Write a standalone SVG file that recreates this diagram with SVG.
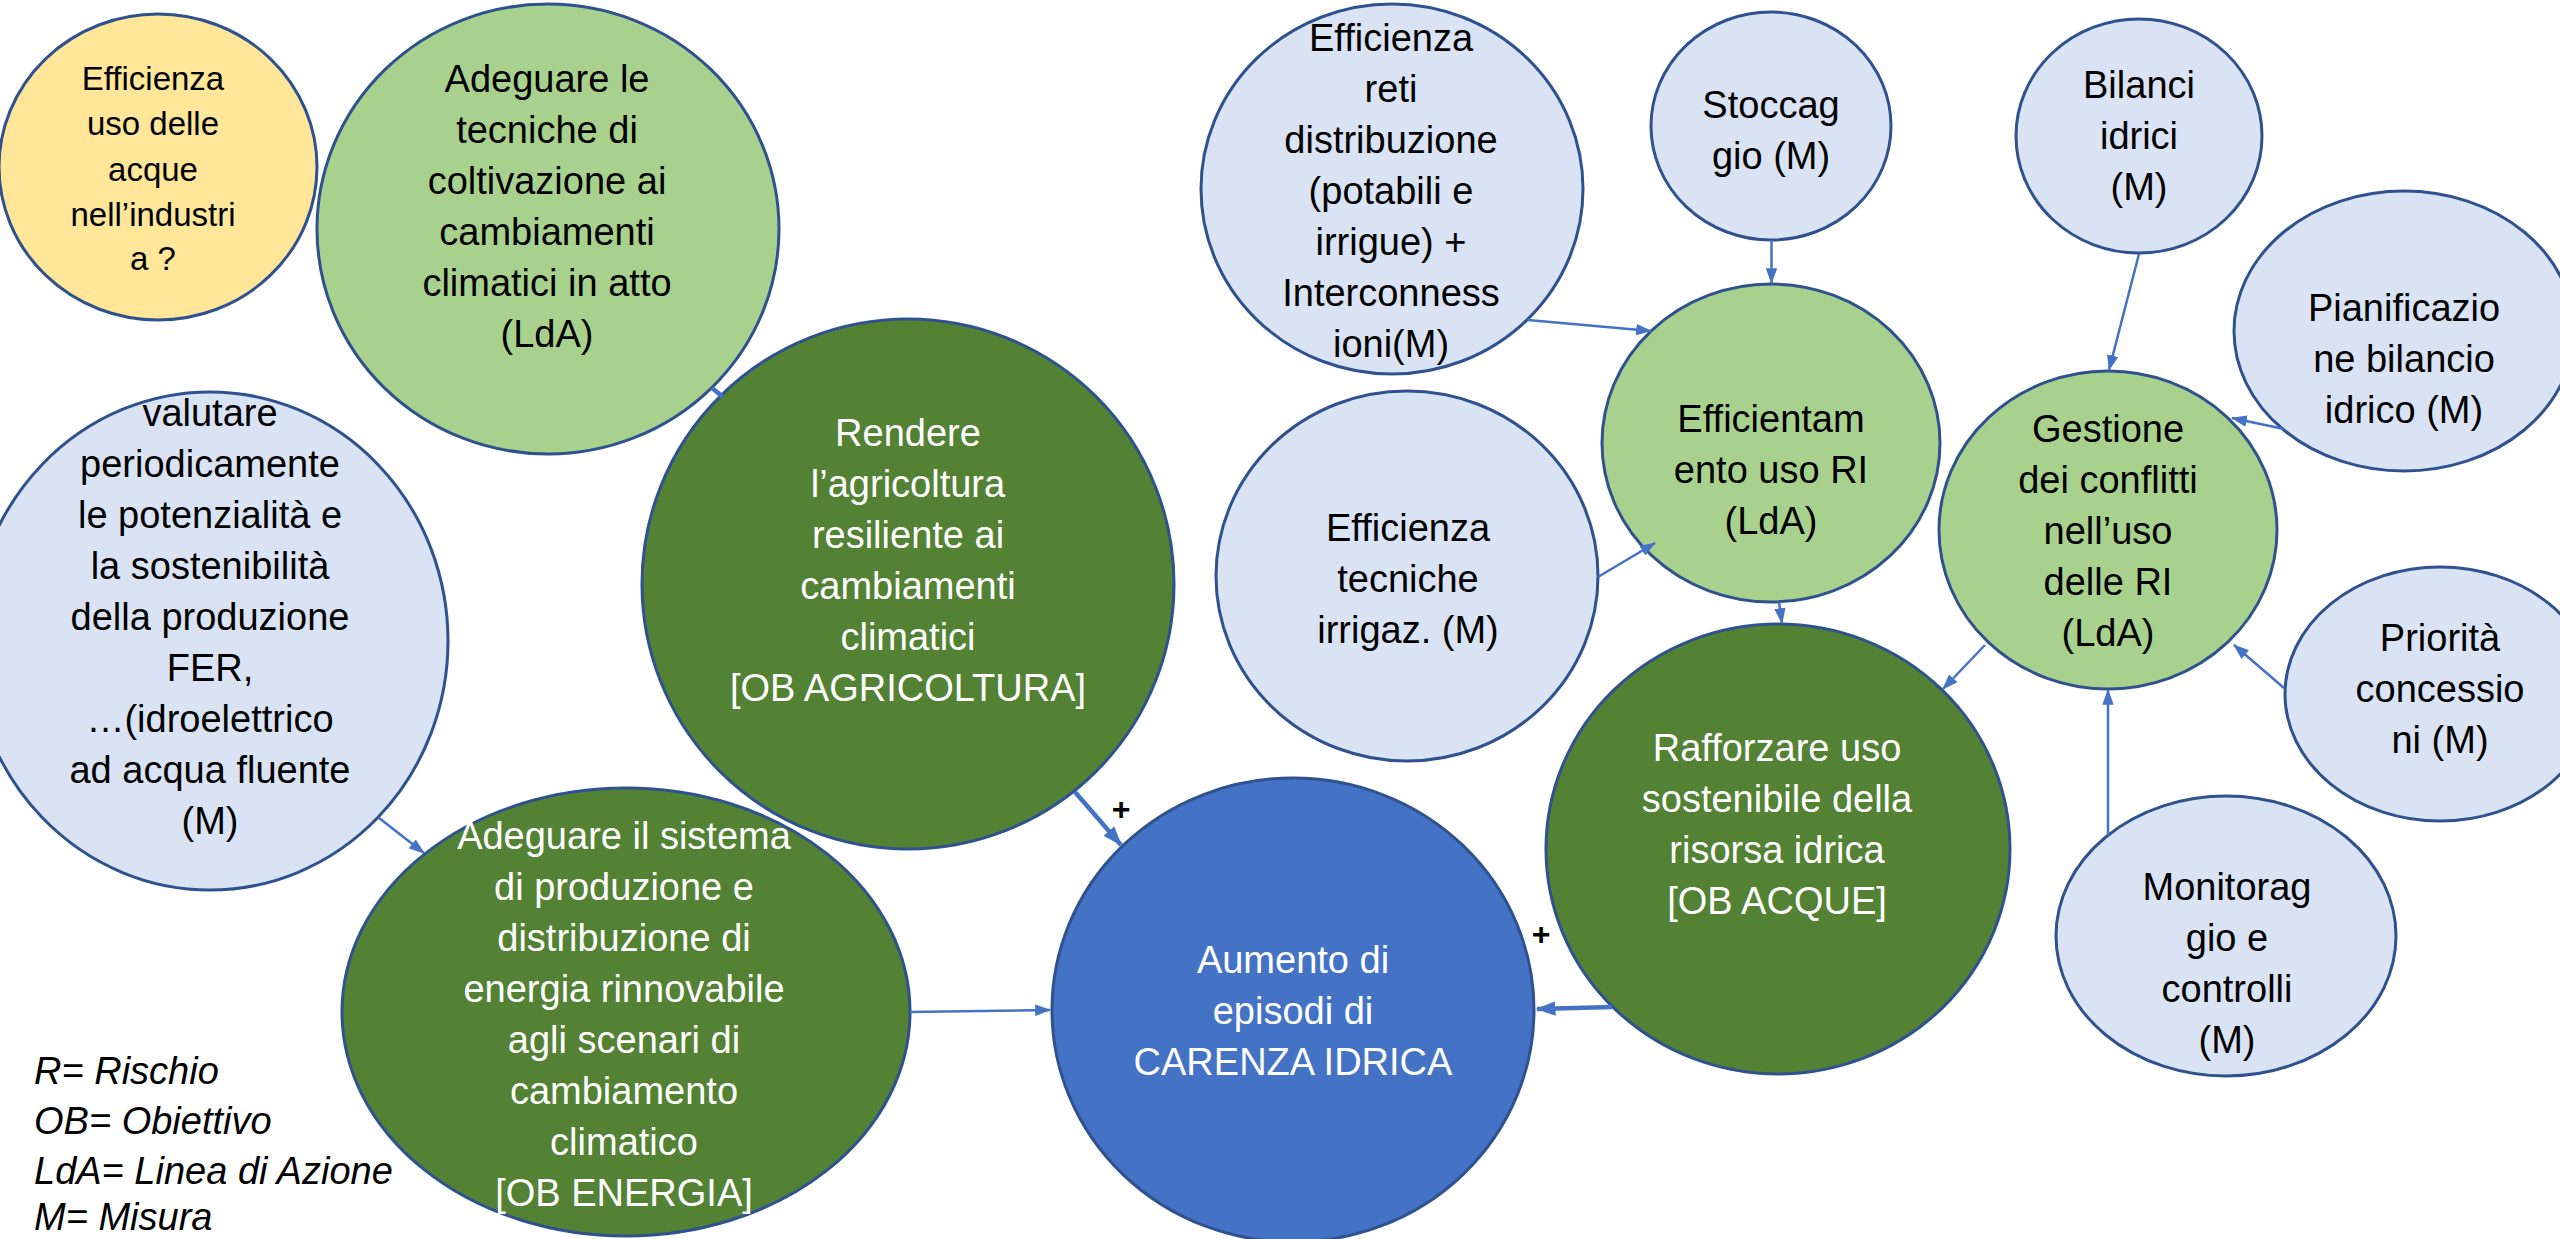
<svg xmlns="http://www.w3.org/2000/svg" width="2560" height="1239" viewBox="0 0 2560 1239">
<defs>
<style>
.n{stroke:#2F528F;stroke-width:3}
.lb{fill:#DAE3F3}
.lg{fill:#A9D18E}
.dg{fill:#548235}
.bl{fill:#4472C4}
.ye{fill:#FFE699}
text{font-family:"Liberation Sans",Arial,sans-serif;font-size:38px;text-anchor:middle}
.k{fill:#000}
.w{fill:#fff}
.sm{font-size:33px}
.lgd{font-style:italic;text-anchor:start;fill:#000}
.c{stroke:#4472C4;stroke-width:2.5;fill:none}
.t{stroke-width:4.5}
.plus{font-weight:bold;font-size:32px;fill:#000}
</style>
<marker id="a" viewBox="0 0 14 10" refX="13" refY="5" markerWidth="16" markerHeight="12" markerUnits="userSpaceOnUse" orient="auto"><path d="M0,0 L14,5 L0,10 z" fill="#4472C4"/></marker>
<marker id="ab" viewBox="0 0 14 10" refX="13" refY="5" markerWidth="20" markerHeight="15" markerUnits="userSpaceOnUse" orient="auto"><path d="M0,0 L14,5 L0,10 z" fill="#4472C4"/></marker>
</defs>
<rect width="2560" height="1239" fill="#fff"/>

<g id="n-industria">
<ellipse class="n ye" cx="158" cy="167" rx="159" ry="153"/>
<text class="k sm" x="153" y="90">Efficienza</text>
<text class="k sm" x="153" y="135">uso delle</text>
<text class="k sm" x="153" y="181">acque</text>
<text class="k sm" x="153" y="226">nell’industri</text>
<text class="k sm" x="153" y="270">a ?</text>
</g>

<g id="n-tecniche-coltivazione">
<ellipse class="n lg" cx="548" cy="229" rx="231" ry="225"/>
<text class="k" x="547" y="92">Adeguare le</text>
<text class="k" x="547" y="143">tecniche di</text>
<text class="k" x="547" y="194">coltivazione ai</text>
<text class="k" x="547" y="245">cambiamenti</text>
<text class="k" x="547" y="296">climatici in atto</text>
<text class="k" x="547" y="347">(LdA)</text>
</g>

<g id="n-valutare">
<ellipse class="n lb" cx="210" cy="641" rx="238" ry="249"/>
<text class="k" x="210" y="426">valutare</text>
<text class="k" x="210" y="477">periodicamente</text>
<text class="k" x="210" y="528">le potenzialità e</text>
<text class="k" x="210" y="579">la sostenibilità</text>
<text class="k" x="210" y="630">della produzione</text>
<text class="k" x="210" y="681">FER,</text>
<text class="k" x="210" y="732">…(idroelettrico</text>
<text class="k" x="210" y="783">ad acqua fluente</text>
<text class="k" x="210" y="834">(M)</text>
</g>

<g id="n-agricoltura">
<ellipse class="n dg" cx="908" cy="584" rx="266" ry="265"/>
<text class="w" x="908" y="446">Rendere</text>
<text class="w" x="908" y="497">l’agricoltura</text>
<text class="w" x="908" y="548">resiliente ai</text>
<text class="w" x="908" y="599">cambiamenti</text>
<text class="w" x="908" y="650">climatici</text>
<text class="w" x="908" y="701">[OB AGRICOLTURA]</text>
</g>

<g id="n-energia">
<ellipse class="n dg" cx="626" cy="1012" rx="284" ry="224"/>
<text class="w" x="624" y="849">Adeguare il sistema</text>
<text class="w" x="624" y="900">di produzione e</text>
<text class="w" x="624" y="951">distribuzione di</text>
<text class="w" x="624" y="1002">energia rinnovabile</text>
<text class="w" x="624" y="1053">agli scenari di</text>
<text class="w" x="624" y="1104">cambiamento</text>
<text class="w" x="624" y="1155">climatico</text>
<text class="w" x="624" y="1206">[OB ENERGIA]</text>
</g>

<g id="n-carenza">
<ellipse class="n bl" cx="1293" cy="1010" rx="241" ry="232"/>
<text class="w" x="1293" y="973">Aumento di</text>
<text class="w" x="1293" y="1024">episodi di</text>
<text class="w" x="1293" y="1075">CARENZA IDRICA</text>
</g>

<g id="n-acque">
<ellipse class="n dg" cx="1778" cy="849" rx="232" ry="225"/>
<text class="w" x="1777" y="761">Rafforzare uso</text>
<text class="w" x="1777" y="812">sostenibile della</text>
<text class="w" x="1777" y="863">risorsa idrica</text>
<text class="w" x="1777" y="914">[OB ACQUE]</text>
</g>

<g id="n-irrigaz">
<ellipse class="n lb" cx="1407" cy="576" rx="191" ry="185"/>
<text class="k" x="1408" y="541">Efficienza</text>
<text class="k" x="1408" y="592">tecniche</text>
<text class="k" x="1408" y="643">irrigaz. (M)</text>
</g>

<g id="n-reti">
<ellipse class="n lb" cx="1392" cy="189" rx="191" ry="185"/>
<text class="k" x="1391" y="51">Efficienza</text>
<text class="k" x="1391" y="102">reti</text>
<text class="k" x="1391" y="153">distribuzione</text>
<text class="k" x="1391" y="204">(potabili e</text>
<text class="k" x="1391" y="255">irrigue)  +</text>
<text class="k" x="1391" y="306">Interconness</text>
<text class="k" x="1391" y="357">ioni(M)</text>
</g>

<g id="n-stoccaggio">
<ellipse class="n lb" cx="1771" cy="126" rx="120" ry="114"/>
<text class="k" x="1771" y="118">Stoccag</text>
<text class="k" x="1771" y="169">gio (M)</text>
</g>

<g id="n-efficientamento">
<ellipse class="n lg" cx="1771" cy="443" rx="169" ry="159"/>
<text class="k" x="1771" y="432">Efficientam</text>
<text class="k" x="1771" y="483">ento uso RI</text>
<text class="k" x="1771" y="534">(LdA)</text>
</g>

<g id="n-bilanci">
<ellipse class="n lb" cx="2139" cy="136" rx="123" ry="117"/>
<text class="k" x="2139" y="98">Bilanci</text>
<text class="k" x="2139" y="149">idrici</text>
<text class="k" x="2139" y="200">(M)</text>
</g>

<g id="n-gestione">
<ellipse class="n lg" cx="2108" cy="530" rx="169" ry="159"/>
<text class="k" x="2108" y="442">Gestione</text>
<text class="k" x="2108" y="493">dei conflitti</text>
<text class="k" x="2108" y="544">nell’uso</text>
<text class="k" x="2108" y="595">delle RI</text>
<text class="k" x="2108" y="646">(LdA)</text>
</g>

<g id="n-pianificazione">
<ellipse class="n lb" cx="2404" cy="331" rx="170" ry="140"/>
<text class="k" x="2404" y="321">Pianificazio</text>
<text class="k" x="2404" y="372">ne bilancio</text>
<text class="k" x="2404" y="423">idrico (M)</text>
</g>

<g id="n-priorita">
<ellipse class="n lb" cx="2440" cy="694" rx="155" ry="127"/>
<text class="k" x="2440" y="651">Priorità</text>
<text class="k" x="2440" y="702">concessio</text>
<text class="k" x="2440" y="753">ni (M)</text>
</g>

<g id="n-monitoraggio">
<ellipse class="n lb" cx="2226" cy="936" rx="170" ry="140"/>
<text class="k" x="2227" y="900">Monitorag</text>
<text class="k" x="2227" y="951">gio e</text>
<text class="k" x="2227" y="1002">controlli</text>
<text class="k" x="2227" y="1053">(M)</text>
</g>

<g id="connectors">
<line class="c" x1="379" y1="818" x2="424" y2="853" marker-end="url(#a)"/>
<line class="c" x1="910" y1="1012" x2="1050" y2="1010" marker-end="url(#a)"/>
<line class="c t" x1="1075" y1="792" x2="1121" y2="845" marker-end="url(#ab)"/>
<line class="c t" x1="712" y1="388" x2="723" y2="397"/>
<line class="c" x1="1528" y1="320" x2="1651" y2="331" stroke-width="3.5" marker-end="url(#a)"/>
<line class="c" x1="1771.5" y1="240" x2="1771.5" y2="283" marker-end="url(#a)"/>
<line class="c" x1="1598" y1="577" x2="1655" y2="543" marker-end="url(#a)"/>
<line class="c" x1="1779" y1="602" x2="1782" y2="623" marker-end="url(#a)"/>
<line class="c" x1="2139" y1="254" x2="2109" y2="370" marker-end="url(#a)"/>
<line class="c" x1="2284" y1="429" x2="2232" y2="418" marker-end="url(#a)"/>
<line class="c" x1="1985" y1="645" x2="1943" y2="689" marker-end="url(#a)"/>
<line class="c" x1="2284" y1="688" x2="2234" y2="645" marker-end="url(#a)"/>
<line class="c" x1="2108" y1="835" x2="2108" y2="690" marker-end="url(#a)"/>
<line class="c t" x1="1612" y1="1007" x2="1537" y2="1009" marker-end="url(#ab)"/>
<text class="plus" x="1121" y="820">+</text>
<text class="plus" x="1541" y="945">+</text>
</g>

<g id="legend">
<text class="lgd" x="34" y="1084">R= Rischio</text>
<text class="lgd" x="34" y="1134">OB= Obiettivo</text>
<text class="lgd" x="34" y="1184">LdA= Linea di Azione</text>
<text class="lgd" x="34" y="1230">M= Misura</text>
</g>
</svg>
